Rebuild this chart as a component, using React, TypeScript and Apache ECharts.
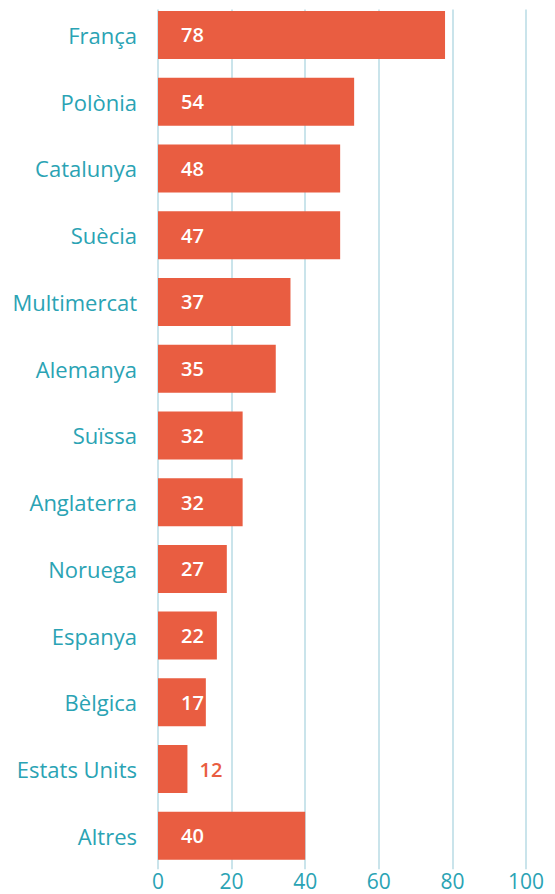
import React, { useEffect, useRef } from "react";
import * as echarts from "echarts";

const categories = [
  "França",
  "Polònia",
  "Catalunya",
  "Suècia",
  "Multimercat",
  "Alemanya",
  "Suïssa",
  "Anglaterra",
  "Noruega",
  "Espanya",
  "Bèlgica",
  "Estats Units",
  "Altres",
];
// bar lengths as drawn in the picture
const barValues = [78, 53.3, 49.5, 49.5, 36, 32, 23, 23, 18.7, 16, 13, 8, 40];
// numbers printed on the bars
const barLabels = [78, 54, 48, 47, 37, 35, 32, 32, 27, 22, 17, 12, 40];
const xTicks = [0, 20, 40, 60, 80, 100];

const BAR = "#e95d41";
const TEAL = "#2aa3b4";
const GRID = "#b8dbe5";
const FONT = "'Open Sans', sans-serif";

export default function App() {
  const ref = useRef<HTMLDivElement>(null);
  useEffect(() => {
    if (!ref.current) return;
    const chart = echarts.init(ref.current, null, { renderer: "svg" });
    const data = barValues.map((v, i) => {
      const item: any = { value: v };
      if (categories[i] === "Estats Units") {
        item.label = { position: "right", color: BAR, distance: 12 };
      }
      return item;
    });
    chart.setOption({
      animation: false,
      grid: { left: 158, right: 29, top: 1.6, bottom: 24.8, containLabel: false },
      xAxis: {
        type: "value",
        min: xTicks[0],
        max: xTicks[xTicks.length - 1],
        interval: 20,
        axisLine: { show: false },
        axisTick: { show: false },
        splitLine: { show: true, lineStyle: { color: GRID, width: 1.5 } },
        axisLabel: {
          color: TEAL,
          fontSize: 21,
          lineHeight: 21,
          fontFamily: FONT,
          margin: 1,
        },
      },
      yAxis: {
        type: "category",
        inverse: true,
        data: categories,
        axisLine: { show: false },
        axisTick: { show: false },
        axisLabel: { color: TEAL, fontSize: 22, fontFamily: FONT, margin: 21 },
      },
      graphic: [
        {
          type: "rect",
          z: 100,
          shape: { x: 140, y: 0, width: 415, height: 9.5 },
          style: { fill: "#ffffff" },
          silent: true,
        },
      ],
      series: [
        {
          type: "bar",
          data,
          barWidth: 48,
          itemStyle: { color: BAR },
          label: {
            show: true,
            position: "insideLeft",
            distance: 23,
            color: "#ffffff",
            fontSize: 20,
            fontWeight: 600,
            fontFamily: FONT,
            formatter: (p: any) => String(barLabels[p.dataIndex]),
          },
        },
      ],
    });
    return () => chart.dispose();
  }, []);
  return (
    <div
      ref={ref}
      style={{ position: "absolute", left: 0, top: 0, width: 555, height: 894 }}
    />
  );
}
